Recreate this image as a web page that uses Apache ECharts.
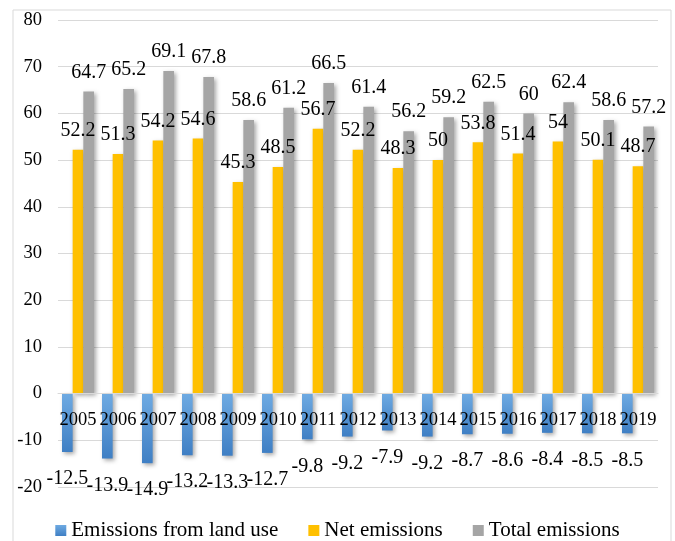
<!DOCTYPE html>
<html>
<head>
<meta charset="utf-8">
<script src="https://cdn.jsdelivr.net/npm/echarts@6/dist/echarts.min.js"></script>
<style>
  html, body { margin: 0; padding: 0; background: #fff; }
  #chart { width: 675px; height: 541px; }
</style>
</head>
<body>
<div id="chart"></div>
<script>
// Emissions by year (Mt CO2 eq.)
const years = ['2005','2006','2007','2008','2009','2010','2011','2012','2013','2014','2015','2016','2017','2018','2019'];
const landUse = [-12.5, -13.9, -14.9, -13.2, -13.3, -12.7, -9.8, -9.2, -7.9, -9.2, -8.7, -8.6, -8.4, -8.5, -8.5];
const netEmissions = [52.2, 51.3, 54.2, 54.6, 45.3, 48.5, 56.7, 52.2, 48.3, 50, 53.8, 51.4, 54, 50.1, 48.7];
const totalEmissions = [64.7, 65.2, 69.1, 67.8, 58.6, 61.2, 66.5, 61.4, 56.2, 59.2, 62.5, 60, 62.4, 58.6, 57.2];
const yTicks = { min: -20, max: 80, interval: 10 };

const FONT = "'Liberation Serif', 'Times New Roman', serif";

const GRID = { left: 58, right: 17, top: 20, bottom: 54 };
const plotHeight = 541 - GRID.top - GRID.bottom;
// lift the category axis from the bottom edge up to the zero line
const zeroOffset = -plotHeight * (0 - yTicks.min) / (yTicks.max - yTicks.min);

const chart = echarts.init(document.getElementById('chart'), null, { renderer: 'canvas' });

const shadow = {
  shadowBlur: 4,
  shadowOffsetX: 2,
  shadowOffsetY: 2,
  shadowColor: 'rgba(0,0,0,0.35)'
};

function barLabel(position, distance) {
  return {
    show: true,
    position: position,
    distance: distance,
    fontFamily: FONT,
    fontSize: 20,
    color: '#000'
  };
}

chart.setOption({
  animation: false,
  backgroundColor: '#fff',
  textStyle: { fontFamily: FONT },
  graphic: [{
    type: 'rect',
    shape: { x: 13, y: 10, width: 658, height: 600 },
    style: { fill: 'none', stroke: '#d9d9d9', lineWidth: 1 },
    silent: true
  }],
  grid: Object.assign({ containLabel: false }, GRID),
  legend: {
    top: 515,
    left: 'center',
    itemWidth: 11,
    itemHeight: 11,
    itemGap: 30,
    icon: 'rect',
    textStyle: { fontFamily: FONT, fontSize: 21, color: '#000' },
    data: ['Emissions from land use', 'Net emissions', 'Total emissions']
  },
  xAxis: {
    type: 'category',
    data: years,
    position: 'bottom',
    offset: zeroOffset,
    z: 10,
    axisLine: { show: true, onZero: false, lineStyle: { color: '#d9d9d9', width: 1 } },
    axisTick: { show: false },
    axisLabel: { fontFamily: FONT, fontSize: 18.5, color: '#000', margin: 17, interval: 0 },
    splitLine: { show: false }
  },
  yAxis: {
    type: 'value',
    min: yTicks.min,
    max: yTicks.max,
    interval: yTicks.interval,
    axisLine: { show: false },
    axisTick: { show: false },
    axisLabel: { fontFamily: FONT, fontSize: 18.5, color: '#000', margin: 16 },
    splitLine: { lineStyle: { color: '#d9d9d9', width: 1 } }
  },
  series: [
    {
      name: 'Emissions from land use',
      type: 'bar',
      data: landUse,
      barGap: '0%',
      barCategoryGap: '20%',
      itemStyle: Object.assign({
        color: new echarts.graphic.LinearGradient(0, 0, 0, 1, [
          { offset: 0, color: '#6eaae2' },
          { offset: 1, color: '#3f7fc4' }
        ])
      }, shadow),
      label: barLabel('bottom', 17)
    },
    {
      name: 'Net emissions',
      type: 'bar',
      data: netEmissions,
      itemStyle: Object.assign({ color: '#ffc000' }, shadow),
      label: barLabel('top', 9)
    },
    {
      name: 'Total emissions',
      type: 'bar',
      data: totalEmissions,
      itemStyle: Object.assign({ color: '#a5a5a5' }, shadow),
      label: barLabel('top', 9)
    }
  ]
});
</script>
</body>
</html>
